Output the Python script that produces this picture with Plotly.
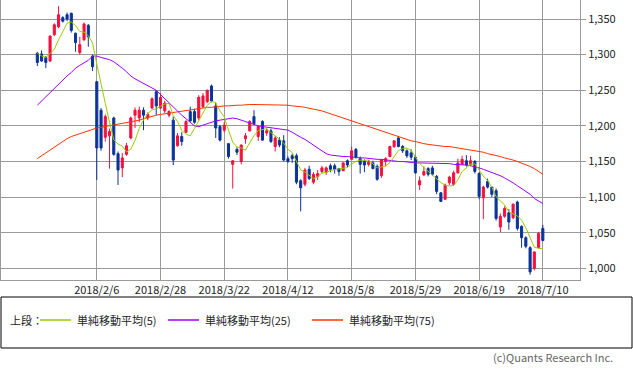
import plotly.graph_objects as go

# ---------------- data ----------------
trade_days = {
    1: [17, 18, 19, 22, 23, 24, 25, 26, 29, 30, 31],
    2: [1, 2, 5, 6, 7, 8, 9, 13, 14, 15, 16, 19, 20, 21, 22, 23, 26, 27, 28],
    3: [1, 2, 5, 6, 7, 8, 9, 12, 13, 14, 15, 16, 19, 20, 22, 23, 26, 27, 28, 29, 30],
    4: [2, 3, 4, 5, 6, 9, 10, 11, 12, 13, 16, 17, 18, 19, 20, 23, 24, 25, 26, 27],
    5: [1, 2, 7, 8, 9, 10, 11, 14, 15, 16, 17, 18, 21, 22, 23, 24, 25, 28, 29, 30, 31],
    6: [1, 4, 5, 6, 7, 8, 11, 12, 13, 14, 15, 18, 19, 20, 21, 22, 25, 26, 27, 28, 29],
    7: [2, 3, 4, 5, 6, 9, 10],
}
dates = [f"2018/{m}/{d}" for m in trade_days for d in trade_days[m]]

opens = [1302, 1301, 1296, 1291, 1328, 1339, 1352, 1356, 1358, 1330,
         1303, 1321, 1341, 1298, 1262, 1222, 1184, 1186, 1211, 1161,
         1141, 1160, 1183, 1215, 1211, 1222, 1211, 1225, 1248, 1225,
         1221, 1215, 1208, 1172, 1185, 1191, 1220, 1220, 1211, 1227,
         1234, 1256, 1228, 1199, 1194, 1175, 1146, 1167, 1150, 1182,
         1193, 1213, 1185, 1206, 1190, 1193, 1171, 1180, 1179, 1154,
         1158, 1158, 1123, 1118, 1139, 1121, 1129, 1136, 1135, 1144,
         1144, 1140, 1137, 1151, 1153, 1167, 1154, 1150, 1146, 1148,
         1143, 1130, 1150, 1157, 1171, 1183, 1171, 1165, 1162, 1156,
         1117, 1131, 1140, 1141, 1129, 1106, 1097, 1120, 1118, 1134,
         1146, 1151, 1146, 1150, 1133, 1099, 1122, 1114, 1109, 1058,
         1073, 1078, 1071, 1093, 1059, 1043, 1029, 1000, 1029, 1056]
highs = [1304, 1306, 1298, 1327, 1344, 1368, 1354, 1359, 1359, 1331,
         1325, 1345, 1343, 1300, 1263, 1225, 1216, 1196, 1213, 1164,
         1162, 1176, 1213, 1226, 1227, 1226, 1219, 1240, 1250, 1246,
         1235, 1222, 1213, 1190, 1191, 1208, 1227, 1224, 1243, 1246,
         1251, 1258, 1232, 1201, 1205, 1176, 1152, 1170, 1174, 1190,
         1208, 1222, 1201, 1208, 1196, 1196, 1186, 1184, 1187, 1157,
         1161, 1161, 1125, 1141, 1144, 1135, 1138, 1144, 1143, 1147,
         1147, 1141, 1149, 1153, 1171, 1169, 1157, 1153, 1152, 1151,
         1146, 1153, 1156, 1172, 1180, 1186, 1173, 1167, 1167, 1158,
         1129, 1143, 1142, 1144, 1131, 1107, 1119, 1130, 1137, 1154,
         1158, 1159, 1158, 1152, 1135, 1116, 1126, 1115, 1112, 1077,
         1087, 1083, 1091, 1095, 1060, 1045, 1031, 1024, 1051, 1061]
lows = [1284, 1290, 1281, 1290, 1326, 1337, 1345, 1347, 1331, 1304,
        1300, 1319, 1311, 1277, 1124, 1165, 1178, 1140, 1158, 1117,
        1128, 1158, 1181, 1197, 1205, 1194, 1208, 1224, 1215, 1224,
        1218, 1212, 1145, 1171, 1172, 1190, 1206, 1203, 1208, 1225,
        1232, 1233, 1183, 1178, 1191, 1154, 1112, 1159, 1146, 1175,
        1192, 1201, 1179, 1179, 1186, 1176, 1164, 1170, 1150, 1148,
        1148, 1118, 1080, 1115, 1124, 1118, 1124, 1133, 1131, 1135,
        1133, 1130, 1137, 1142, 1153, 1154, 1133, 1135, 1143, 1139,
        1123, 1127, 1143, 1156, 1169, 1170, 1162, 1155, 1152, 1133,
        1110, 1130, 1129, 1130, 1104, 1093, 1096, 1117, 1116, 1133,
        1145, 1143, 1144, 1133, 1097, 1069, 1112, 1100, 1067, 1051,
        1071, 1054, 1069, 1053, 1029, 1028, 991, 997, 1028, 1038]
closes = [1289, 1291, 1289, 1326, 1342, 1356, 1347, 1350, 1334, 1317,
          1314, 1343, 1325, 1283, 1169, 1169, 1213, 1192, 1160, 1138,
          1155, 1172, 1211, 1222, 1222, 1215, 1216, 1238, 1228, 1240,
          1232, 1220, 1152, 1186, 1178, 1206, 1207, 1205, 1240, 1242,
          1250, 1235, 1197, 1180, 1201, 1157, 1151, 1163, 1173, 1186,
          1206, 1203, 1199, 1180, 1193, 1178, 1183, 1173, 1152, 1150,
          1154, 1121, 1113, 1138, 1126, 1132, 1133, 1141, 1141, 1139,
          1139, 1136, 1148, 1145, 1165, 1156, 1146, 1145, 1149, 1140,
          1125, 1152, 1154, 1171, 1179, 1171, 1165, 1158, 1156, 1134,
          1123, 1136, 1132, 1132, 1108, 1094, 1117, 1128, 1134, 1148,
          1153, 1145, 1151, 1136, 1101, 1114, 1114, 1104, 1070, 1073,
          1084, 1065, 1090, 1056, 1043, 1031, 995, 1023, 1049, 1039]

# closes of the 4 sessions before the chart starts (needed for the 5-day average)
prior_closes = [1310, 1300, 1300, 1311]

ma25 = [1229, 1235, 1240, 1246, 1252, 1258, 1264, 1270, 1275, 1281,
        1285, 1289, 1292, 1298, 1298, 1296, 1295, 1293, 1290, 1286,
        1281, 1276, 1270, 1266, 1263, 1260, 1257, 1253, 1250, 1244,
        1238, 1232, 1226, 1221, 1215, 1210, 1205, 1200, 1199, 1201,
        1204, 1206, 1207, 1208, 1209, 1210, 1211, 1210, 1208, 1206,
        1204, 1201, 1200, 1199, 1198, 1197, 1196, 1196, 1195, 1194,
        1191, 1187, 1184, 1181, 1177, 1172, 1168, 1164, 1161, 1159,
        1158, 1158, 1157, 1157, 1156, 1156, 1155, 1155, 1154, 1154,
        1153, 1153, 1152, 1151, 1151, 1150, 1150, 1149, 1149, 1148,
        1148, 1148, 1148, 1147, 1147, 1147, 1147, 1147, 1146, 1146,
        1146, 1145, 1144, 1143, 1141, 1139, 1137, 1135, 1133, 1130,
        1127, 1124, 1120, 1116, 1112, 1108, 1104, 1098, 1094, 1091]
ma75 = [1154, 1158, 1163, 1167, 1171, 1175, 1179, 1182, 1185, 1187,
        1189, 1191, 1194, 1196, 1197, 1198, 1199, 1200, 1201, 1202,
        1203, 1204, 1205, 1207, 1208, 1210, 1212, 1213, 1215, 1216,
        1217, 1218, 1219, 1220, 1221, 1222, 1223, 1224, 1225, 1225,
        1226, 1226, 1227, 1227, 1228, 1228, 1229, 1229, 1229, 1230,
        1230, 1230, 1230, 1230, 1230, 1230, 1229, 1229, 1229, 1229,
        1228, 1228, 1227, 1226, 1225, 1224, 1222, 1221, 1219, 1217,
        1215, 1213, 1211, 1209, 1207, 1205, 1203, 1200, 1198, 1196,
        1194, 1192, 1191, 1189, 1187, 1185, 1183, 1181, 1179, 1178,
        1176, 1175, 1174, 1173, 1172, 1172, 1171, 1171, 1170, 1170,
        1169, 1168, 1167, 1166, 1164, 1163, 1161, 1160, 1158, 1157,
        1155, 1154, 1152, 1150, 1148, 1146, 1143, 1140, 1136, 1132]

tick_labels = ["2018/2/6", "2018/2/28", "2018/3/22", "2018/4/12",
               "2018/5/8", "2018/5/29", "2018/6/19", "2018/7/10"]
y_ticks = [1000, 1050, 1100, 1150, 1200, 1250, 1300, 1350]

legend_prefix = "上段："
legend_names = ["単純移動平均(5)", "単純移動平均(25)", "単純移動平均(75)"]
copyright_text = "(c)Quants Research Inc."

# ---------------- derived ----------------
n = len(dates)
xs = list(range(n))
ext = prior_closes + closes
ma5 = [sum(ext[i:i + 5]) / 5 for i in range(n)]
tick_idx = [dates.index(t) for t in tick_labels]

RED = "#F5103C"
BLUE = "#0A3399"
GREEN = "#99CC00"
PURPLE = "#9900FF"
ORANGE = "#FF3300"
GRID = "#9A9A9A"
FONT = "Noto Sans CJK JP"

W, H = 633, 371
ML, MR, MT, MB = 1, 53, 0, 91
PW, PH = W - ML - MR, H - MT - MB


def px_x(p):
    return (p - ML) / PW


def px_y(p):
    return (MT + PH - p) / PH


fig = go.Figure()
fig.add_trace(go.Candlestick(
    x=xs, open=opens, high=highs, low=lows, close=closes,
    increasing=dict(line=dict(color=RED, width=1), fillcolor=RED),
    decreasing=dict(line=dict(color=BLUE, width=1), fillcolor=BLUE),
    whiskerwidth=0, showlegend=False, hoverinfo="skip"))
for ys, col in [(ma75, ORANGE), (ma25, PURPLE), (ma5, GREEN)]:
    fig.add_trace(go.Scatter(x=xs, y=ys, mode="lines",
                             line=dict(color=col, width=1),
                             showlegend=False, hoverinfo="skip"))

fig.update_layout(
    width=W, height=H,
    margin=dict(l=ML, r=MR, t=MT, b=MB, pad=0, autoexpand=False),
    paper_bgcolor="white", plot_bgcolor="white",
    font=dict(family=FONT, size=11, color="#222"),
    showlegend=False, hovermode=False,
    xaxis=dict(range=[-8.55, 127.75], tickmode="array", tickvals=tick_idx,
               ticktext=tick_labels, showgrid=True, gridcolor=GRID, gridwidth=1,
               showline=True, linecolor=GRID, linewidth=1, mirror=True,
               ticks="", zeroline=False, rangeslider=dict(visible=False),
               automargin=False, tickfont=dict(size=11, color="#222")),
    yaxis=dict(range=[983.6, 1376.7], side="right", tickmode="array",
               tickvals=y_ticks, tickformat=",", showgrid=True, gridcolor=GRID,
               gridwidth=1, showline=True, linecolor=GRID, linewidth=1,
               mirror=True, ticks="outside", ticklen=5, tickcolor=GRID,
               zeroline=False, automargin=False,
               tickfont=dict(size=11, color="#222")),
)

shapes = [dict(type="rect", xref="paper", yref="paper",
               x0=px_x(1), x1=px_x(632), y0=px_y(297), y1=px_y(348),
               line=dict(color="black", width=1), fillcolor="rgba(0,0,0,0)")]
annotations = [dict(text=legend_prefix, xref="paper", yref="paper",
                    x=px_x(8), y=px_y(320), xanchor="left", yanchor="middle",
                    showarrow=False, font=dict(size=11, color="#222"))]
leg_line_x = [40, 168, 312]
for name, col, lx in zip(legend_names, [GREEN, PURPLE, ORANGE], leg_line_x):
    shapes.append(dict(type="line", xref="paper", yref="paper",
                       x0=px_x(lx), x1=px_x(lx + 31), y0=px_y(320), y1=px_y(320),
                       line=dict(color=col, width=1.5)))
    annotations.append(dict(text=name, xref="paper", yref="paper",
                            x=px_x(lx + 35), y=px_y(320), xanchor="left",
                            yanchor="middle", showarrow=False,
                            font=dict(size=11, color="#222")))
annotations.append(dict(text=copyright_text, xref="paper", yref="paper",
                        x=px_x(615), y=px_y(357), xanchor="right",
                        yanchor="middle", showarrow=False,
                        font=dict(size=11, color="#666")))
fig.update_layout(shapes=shapes, annotations=annotations)

fig.write_html("out.html",
               config={"displayModeBar": False, "staticPlot": True},
               post_script="document.body.style.margin='0';"
                           "document.body.style.padding='0';")
